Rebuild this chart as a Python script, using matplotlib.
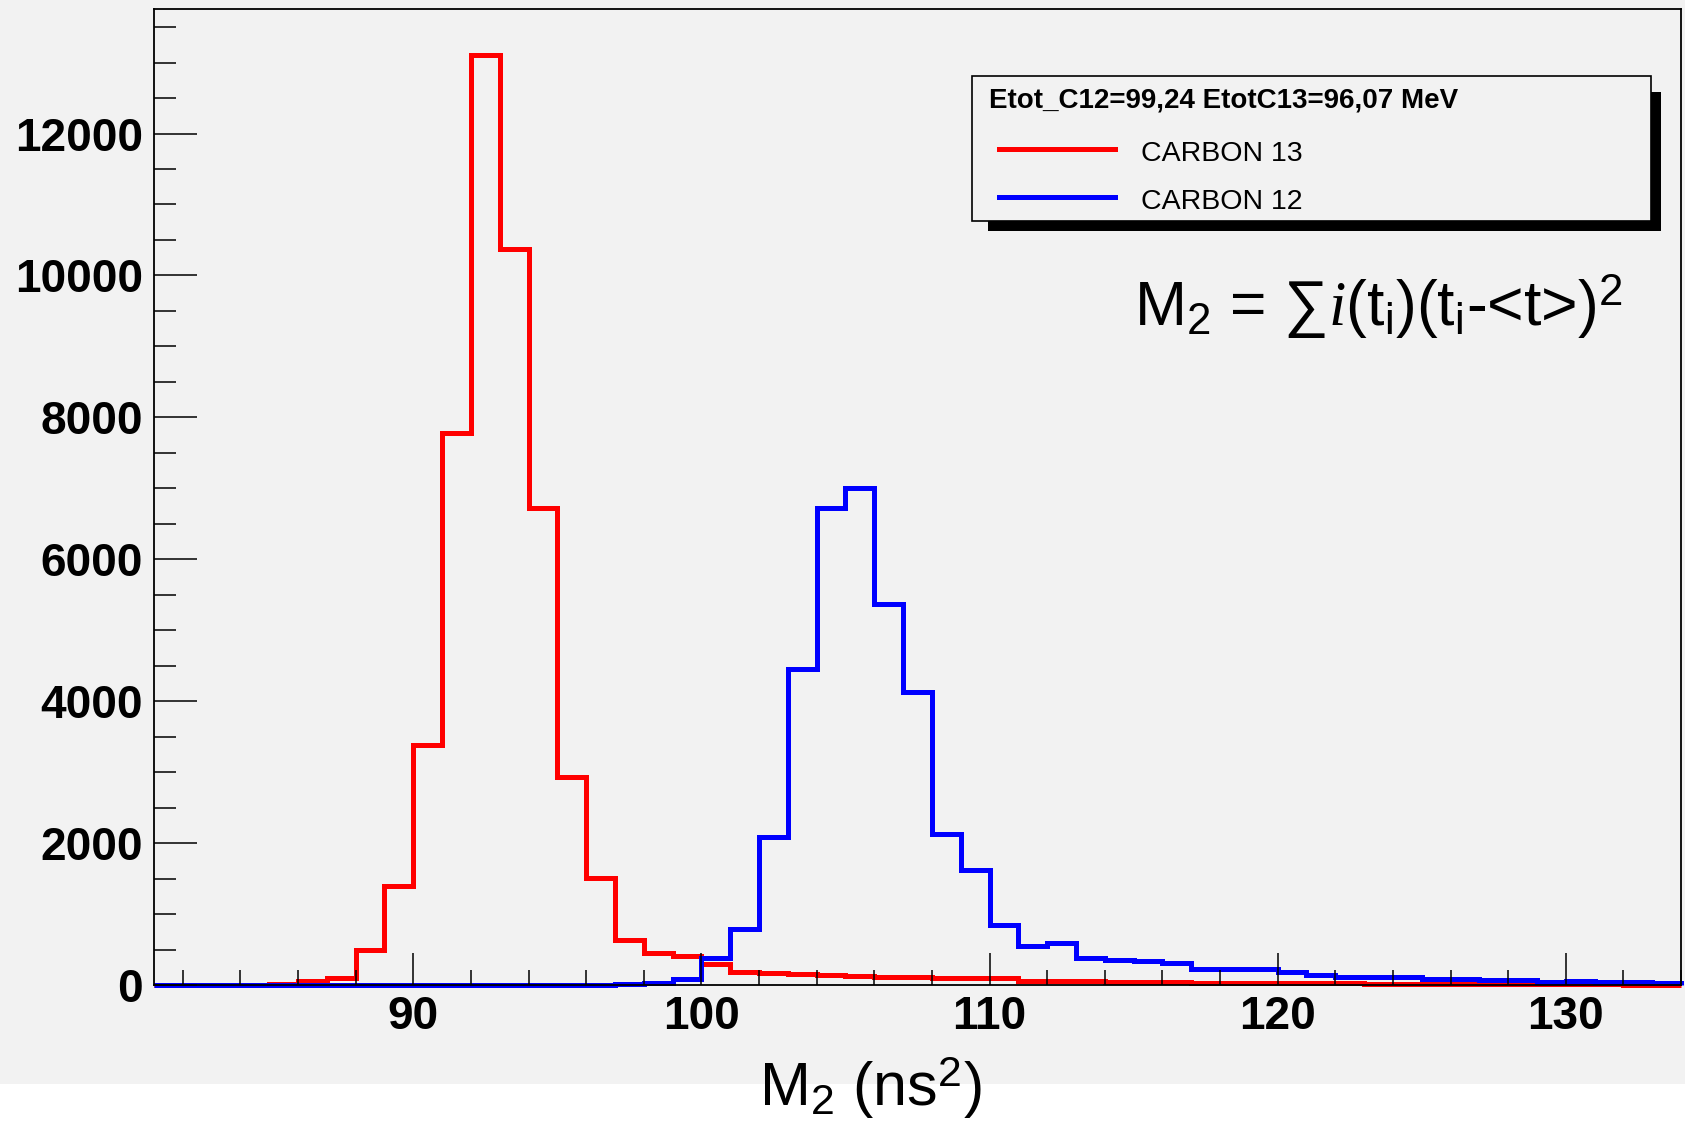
import numpy as np
import matplotlib
matplotlib.use('Agg')
import matplotlib.pyplot as plt
from matplotlib.patches import Rectangle
from matplotlib.lines import Line2D
from matplotlib.ticker import MultipleLocator

plt.rcParams['font.family'] = ['Liberation Sans', 'DejaVu Sans']
plt.rcParams['mathtext.fontset'] = 'custom'
plt.rcParams['mathtext.rm'] = 'Liberation Sans'
plt.rcParams['mathtext.it'] = 'Liberation Serif:italic'
plt.rcParams['mathtext.bf'] = 'Liberation Sans:bold'

# bins of 1 ns^2 from 81 to 134
bin_edges = np.arange(81, 135)

# CARBON 13 counts per bin
carbon13 = [0, 0, 0, 0, 20, 60, 100, 490, 1390, 3385,
            7780, 13100, 10370, 6725, 2930, 1510, 635, 450, 405, 300,
            180, 170, 160, 140, 125, 115, 110, 100, 100, 95,
            60, 55, 50, 45, 45, 40, 35, 35, 35, 30,
            28, 25, 20, 18, 15, 12, 12, 10, 10, 8,
            8, 6, 5]

# CARBON 12 counts per bin
carbon12 = [0, 0, 0, 0, 0, 0, 0, 0, 0, 0,
            0, 0, 0, 0, 0, 0, 8, 25, 80, 375,
            785, 2085, 4460, 6725, 7010, 5365, 4125, 2130, 1615, 850,
            555, 595, 385, 355, 340, 315, 225, 220, 230, 190,
            140, 117, 117, 117, 82, 80, 70, 70, 48, 55,
            47, 47, 25]

legend_title = 'Etot_C12=99,24 EtotC13=96,07 MeV'
labels = ['CARBON 13', 'CARBON 12']
colors = ['#ff0000', '#0000ff']

W, H = 1685, 1125
fig = plt.figure(figsize=(W / 100, H / 100), dpi=100)
fig.patch.set_facecolor('white')
bg = '#f2f2f2'
fig.add_artist(Rectangle((0, 1 - 1084 / H), 1, 1084 / H, transform=fig.transFigure,
                         facecolor=bg, edgecolor='none', zorder=-10))

ax = fig.add_axes([154 / W, 1 - 985 / H, (1681 - 154) / W, (985 - 9) / H])
ax.set_facecolor(bg)

ax.stairs(carbon13, bin_edges, color=colors[0], lw=3.6, baseline=0, clip_on=False)
ax.stairs(carbon12, bin_edges, color=colors[1], lw=3.6, baseline=0, clip_on=False)

ax.set_xlim(81, 134)
ax.set_ylim(0, 1.05 * max(carbon13))

ax.xaxis.set_major_locator(MultipleLocator(10))
ax.xaxis.set_minor_locator(MultipleLocator(2))
ax.yaxis.set_major_locator(MultipleLocator(2000))
ax.yaxis.set_minor_locator(MultipleLocator(500))
ax.tick_params(axis='x', which='major', direction='in', length=23, width=1.1, pad=7,
               labelsize=33)
ax.tick_params(axis='x', which='minor', direction='in', length=11, width=1.1)
ax.tick_params(axis='y', which='major', direction='in', length=31, width=1.1, pad=8,
               labelsize=33)
ax.tick_params(axis='y', which='minor', direction='in', length=16, width=1.1)
for lab in ax.get_xticklabels() + ax.get_yticklabels():
    lab.set_fontweight('bold')
for sp in ax.spines.values():
    sp.set_linewidth(1.3)

# x axis title
fig.text(870 / W, 1 - 1088 / H, r'M$_\mathrm{2}$ (ns$^\mathrm{2}$)', fontsize=44,
         ha='center', va='center')

# formula
fig.text(1134 / W, 1 - 326 / H,
         r'M$_\mathrm{2}$ = ∑$\mathit{i}$(t$_\mathrm{i}$)(t$_\mathrm{i}$-<t>)$^\mathrm{2}$',
         fontsize=45, ha='left', va='baseline')

# legend box with shadow
fig.add_artist(Rectangle((988 / W, 1 - 231 / H), (1661 - 988) / W, (231 - 92) / H,
                         transform=fig.transFigure, facecolor='black', edgecolor='none',
                         zorder=5))
fig.add_artist(Rectangle((972 / W, 1 - 221 / H), (1651 - 972) / W, (221 - 76) / H,
                         transform=fig.transFigure, facecolor=bg, edgecolor='black',
                         lw=1.2, zorder=6))
fig.text(989 / W, 1 - 101 / H, legend_title, fontsize=20, fontweight='bold',
         ha='left', va='center', zorder=7)
for lab, col, yy in zip(labels, colors, [149, 197]):
    fig.add_artist(Line2D([999 / W, 1115 / W], [1 - yy / H, 1 - yy / H],
                          transform=fig.transFigure, color=col, lw=3.6, zorder=7))
    fig.text(1141 / W, 1 - (yy + 5) / H, lab, fontsize=20.5, ha='left', va='center',
             zorder=7)

fig.savefig('out.png', dpi=100, facecolor=fig.get_facecolor())
